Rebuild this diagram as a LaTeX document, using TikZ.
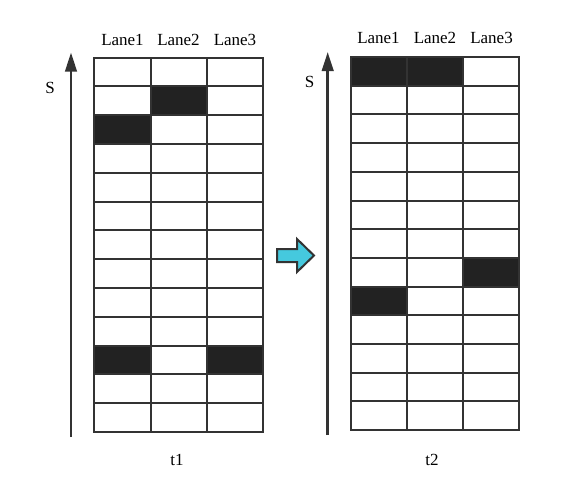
\documentclass[tikz,border=0pt]{standalone}
\usepackage{fontspec}
\setmainfont{Liberation Serif}
\usetikzlibrary{arrows.meta}
\definecolor{gline}{HTML}{333333}
\definecolor{gfill}{HTML}{222222}
\definecolor{cyanarrow}{RGB}{69,201,222}
\begin{document}
\begin{tikzpicture}[x=1pt,y=-1pt,
  cell/.style={draw=gline,line width=2pt,fill=white},
  darkcell/.style={draw=gline,line width=2pt,fill=gfill},
  lbl/.style={font=\fontsize{17}{20}\selectfont,text=black,inner sep=0pt,anchor=base},
  axis/.style={draw=gline,line width=2.6pt,-{Triangle[length=19pt,width=11.5pt]}},
  bigarrow/.style={draw=gline,line width=2pt,fill=cyanarrow,line join=miter}]
\useasboundingbox (0,0) rectangle (584,491);
% left grid
\def\Lx{94.3}\def\Lw{56.33}\def\Ly{57.5}\def\Lh{28.8}
\foreach \r in {0,...,12}{
  \foreach \c in {0,1,2}{
    \draw[cell] ({\Lx+\c*\Lw},{\Ly+\r*\Lh}) rectangle ({\Lx+(\c+1)*\Lw},{\Ly+(\r+1)*\Lh});
  }
}
\foreach \r/\c in {1/1,2/0,10/0,10/2}{
  \draw[darkcell] ({\Lx+\c*\Lw},{\Ly+\r*\Lh}) rectangle ({\Lx+(\c+1)*\Lw},{\Ly+(\r+1)*\Lh});
}
% right grid
\def\Rx{351}\def\Rw{56}\def\Ry{57}\def\Rh{28.7}
\foreach \r in {0,...,12}{
  \foreach \c in {0,1,2}{
    \draw[cell] ({\Rx+\c*\Rw},{\Ry+\r*\Rh}) rectangle ({\Rx+(\c+1)*\Rw},{\Ry+(\r+1)*\Rh});
  }
}
\foreach \r/\c in {0/0,0/1,7/2,8/0}{
  \draw[darkcell] ({\Rx+\c*\Rw},{\Ry+\r*\Rh}) rectangle ({\Rx+(\c+1)*\Rw},{\Ry+(\r+1)*\Rh});
}
% axes
\coordinate (la0) at (71,437);
\coordinate (la1) at (71,52.5);
\coordinate (ra0) at (327.7,435);
\coordinate (ra1) at (327.7,52);
\draw[axis] (la0) -- (la1);
\draw[axis] (ra0) -- (ra1);
% labels
\node[lbl] (sL) at (50,93) {S};
\node[lbl] (sR) at (309.6,87) {S};
\node[lbl] (l1L) at (122.5,45) {Lane1};
\node[lbl] (l2L) at (178.5,45) {Lane2};
\node[lbl] (l3L) at (235,45) {Lane3};
\node[lbl] (l1R) at (378.5,43.5) {Lane1};
\node[lbl] (l2R) at (435,43.5) {Lane2};
\node[lbl] (l3R) at (491.5,43.5) {Lane3};
\node[lbl] (t1) at (177,465) {t1};
\node[lbl] (t2) at (432,465) {t2};
% transition arrow
\draw[bigarrow] (277,249) -- (297,249) -- (297,239) -- (314,255.5) -- (297,272) -- (297,262) -- (277,262) -- cycle;
\end{tikzpicture}
\end{document}
